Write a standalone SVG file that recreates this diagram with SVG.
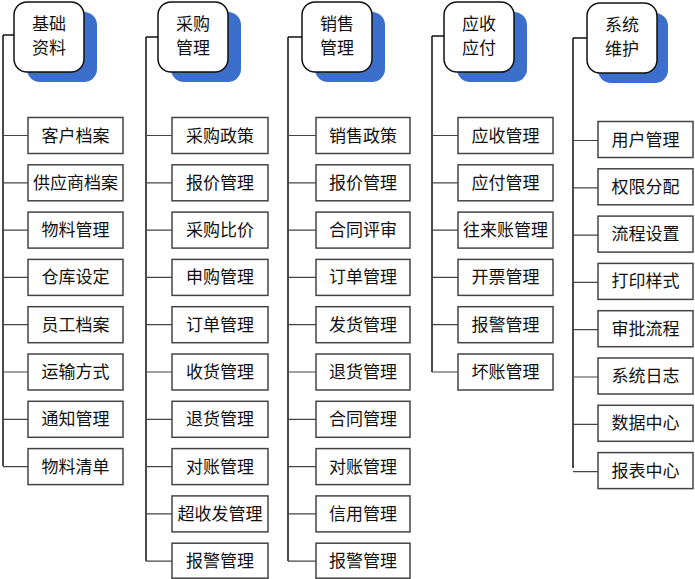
<svg xmlns="http://www.w3.org/2000/svg" width="695" height="579" viewBox="0 0 695 579">
<style>
.hd{fill:#fff;stroke:#111;stroke-width:1.5}
.sh{fill:#3B6FCB}
.bx{fill:#fff;stroke:#444;stroke-width:1.5}
.t{font-family:"Noto Sans CJK SC","Noto Sans",sans-serif;font-size:17px;fill:#111;text-anchor:middle}
.ht{font-size:17px}
.v{stroke:#111;stroke-width:1.5;fill:none}
.h{stroke:#444;stroke-width:1.2;fill:none}
</style>
<rect width="695" height="579" fill="#fff"/>
<g id="connectors">
<path class="v" d="M3,35H14M3,35V466"/>
<path class="h" d="M3,135.5H28M3,182.8H28M3,230.1H28M3,277.4H28M3,324.7H28M3,372H28M3,419.3H28M3,466.6H28"/>
<path class="v" d="M146,37H158M146,37V561"/>
<path class="h" d="M146,135.5H172M146,182.8H172M146,230.1H172M146,277.4H172M146,324.7H172M146,372H172M146,419.3H172M146,466.6H172M146,513.9H172M146,561.2H172"/>
<path class="v" d="M288,37H302M288,37V561"/>
<path class="h" d="M288,135.5H316M288,182.8H316M288,230.1H316M288,277.4H316M288,324.7H316M288,372H316M288,419.3H316M288,466.6H316M288,513.9H316M288,561.2H316"/>
<path class="v" d="M432,36H444M432,36V372"/>
<path class="h" d="M432,135.5H458M432,182.8H458M432,230.1H458M432,277.4H458M432,324.7H458M432,372H458"/>
<path class="v" d="M573,38H587M573,38V468"/>
<path class="h" d="M573,140.5H598M573,187.8H598M573,235.1H598M573,282.4H598M573,329.7H598M573,377H598M573,424.3H598M573,471.6H598"/>
</g>
<g id="h1"><rect class="sh" x="27" y="12" width="70" height="70" rx="13"/><rect class="hd" x="14" y="2" width="70" height="70" rx="13"/><text class="t ht" x="49" y="30">基础</text><text class="t ht" x="49" y="54">资料</text></g>
<g id="h2"><rect class="sh" x="171" y="12" width="70" height="70" rx="13"/><rect class="hd" x="158" y="2" width="70" height="70" rx="13"/><text class="t ht" x="193" y="30">采购</text><text class="t ht" x="193" y="54">管理</text></g>
<g id="h3"><rect class="sh" x="315" y="12" width="70" height="70" rx="13"/><rect class="hd" x="302" y="2" width="70" height="70" rx="13"/><text class="t ht" x="337" y="30">销售</text><text class="t ht" x="337" y="54">管理</text></g>
<g id="h4"><rect class="sh" x="457" y="12" width="70" height="70" rx="13"/><rect class="hd" x="444" y="2" width="70" height="70" rx="13"/><text class="t ht" x="479" y="30">应收</text><text class="t ht" x="479" y="54">应付</text></g>
<g id="h5"><rect class="sh" x="598" y="13" width="70" height="70" rx="13"/><rect class="hd" x="587" y="3" width="70" height="70" rx="13"/><text class="t ht" x="622" y="31">系统</text><text class="t ht" x="622" y="55">维护</text></g>
<g id="c1">
<g id="c1n1"><rect class="bx" x="28" y="117.5" width="95" height="36"/><text class="t" x="75.5" y="141.5">客户档案</text></g>
<g id="c1n2"><rect class="bx" x="28" y="164.8" width="95" height="36"/><text class="t" x="75.5" y="188.8">供应商档案</text></g>
<g id="c1n3"><rect class="bx" x="28" y="212.1" width="95" height="36"/><text class="t" x="75.5" y="236.1">物料管理</text></g>
<g id="c1n4"><rect class="bx" x="28" y="259.4" width="95" height="36"/><text class="t" x="75.5" y="283.4">仓库设定</text></g>
<g id="c1n5"><rect class="bx" x="28" y="306.7" width="95" height="36"/><text class="t" x="75.5" y="330.7">员工档案</text></g>
<g id="c1n6"><rect class="bx" x="28" y="354" width="95" height="36"/><text class="t" x="75.5" y="378">运输方式</text></g>
<g id="c1n7"><rect class="bx" x="28" y="401.3" width="95" height="36"/><text class="t" x="75.5" y="425.3">通知管理</text></g>
<g id="c1n8"><rect class="bx" x="28" y="448.6" width="95" height="36"/><text class="t" x="75.5" y="472.6">物料清单</text></g>
</g>
<g id="c2">
<g id="c2n1"><rect class="bx" x="172" y="117.5" width="96" height="36"/><text class="t" x="220" y="141.5">采购政策</text></g>
<g id="c2n2"><rect class="bx" x="172" y="164.8" width="96" height="36"/><text class="t" x="220" y="188.8">报价管理</text></g>
<g id="c2n3"><rect class="bx" x="172" y="212.1" width="96" height="36"/><text class="t" x="220" y="236.1">采购比价</text></g>
<g id="c2n4"><rect class="bx" x="172" y="259.4" width="96" height="36"/><text class="t" x="220" y="283.4">申购管理</text></g>
<g id="c2n5"><rect class="bx" x="172" y="306.7" width="96" height="36"/><text class="t" x="220" y="330.7">订单管理</text></g>
<g id="c2n6"><rect class="bx" x="172" y="354" width="96" height="36"/><text class="t" x="220" y="378">收货管理</text></g>
<g id="c2n7"><rect class="bx" x="172" y="401.3" width="96" height="36"/><text class="t" x="220" y="425.3">退货管理</text></g>
<g id="c2n8"><rect class="bx" x="172" y="448.6" width="96" height="36"/><text class="t" x="220" y="472.6">对账管理</text></g>
<g id="c2n9"><rect class="bx" x="172" y="495.9" width="96" height="36"/><text class="t" x="220" y="519.9">超收发管理</text></g>
<g id="c2n10"><rect class="bx" x="172" y="543.2" width="96" height="35"/><text class="t" x="220" y="567.2">报警管理</text></g>
</g>
<g id="c3">
<g id="c3n1"><rect class="bx" x="316" y="117.5" width="94" height="36"/><text class="t" x="363" y="141.5">销售政策</text></g>
<g id="c3n2"><rect class="bx" x="316" y="164.8" width="94" height="36"/><text class="t" x="363" y="188.8">报价管理</text></g>
<g id="c3n3"><rect class="bx" x="316" y="212.1" width="94" height="36"/><text class="t" x="363" y="236.1">合同评审</text></g>
<g id="c3n4"><rect class="bx" x="316" y="259.4" width="94" height="36"/><text class="t" x="363" y="283.4">订单管理</text></g>
<g id="c3n5"><rect class="bx" x="316" y="306.7" width="94" height="36"/><text class="t" x="363" y="330.7">发货管理</text></g>
<g id="c3n6"><rect class="bx" x="316" y="354" width="94" height="36"/><text class="t" x="363" y="378">退货管理</text></g>
<g id="c3n7"><rect class="bx" x="316" y="401.3" width="94" height="36"/><text class="t" x="363" y="425.3">合同管理</text></g>
<g id="c3n8"><rect class="bx" x="316" y="448.6" width="94" height="36"/><text class="t" x="363" y="472.6">对账管理</text></g>
<g id="c3n9"><rect class="bx" x="316" y="495.9" width="94" height="36"/><text class="t" x="363" y="519.9">信用管理</text></g>
<g id="c3n10"><rect class="bx" x="316" y="543.2" width="94" height="35"/><text class="t" x="363" y="567.2">报警管理</text></g>
</g>
<g id="c4">
<g id="c4n1"><rect class="bx" x="458" y="117.5" width="95" height="36"/><text class="t" x="505.5" y="141.5">应收管理</text></g>
<g id="c4n2"><rect class="bx" x="458" y="164.8" width="95" height="36"/><text class="t" x="505.5" y="188.8">应付管理</text></g>
<g id="c4n3"><rect class="bx" x="458" y="212.1" width="95" height="36"/><text class="t" x="505.5" y="236.1">往来账管理</text></g>
<g id="c4n4"><rect class="bx" x="458" y="259.4" width="95" height="36"/><text class="t" x="505.5" y="283.4">开票管理</text></g>
<g id="c4n5"><rect class="bx" x="458" y="306.7" width="95" height="36"/><text class="t" x="505.5" y="330.7">报警管理</text></g>
<g id="c4n6"><rect class="bx" x="458" y="354" width="95" height="36"/><text class="t" x="505.5" y="378">坏账管理</text></g>
</g>
<g id="c5">
<g id="c5n1"><rect class="bx" x="598" y="121.5" width="95" height="36"/><text class="t" x="645.5" y="145.5">用户管理</text></g>
<g id="c5n2"><rect class="bx" x="598" y="168.8" width="95" height="36"/><text class="t" x="645.5" y="192.8">权限分配</text></g>
<g id="c5n3"><rect class="bx" x="598" y="216.1" width="95" height="36"/><text class="t" x="645.5" y="240.1">流程设置</text></g>
<g id="c5n4"><rect class="bx" x="598" y="263.4" width="95" height="36"/><text class="t" x="645.5" y="287.4">打印样式</text></g>
<g id="c5n5"><rect class="bx" x="598" y="310.7" width="95" height="36"/><text class="t" x="645.5" y="334.7">审批流程</text></g>
<g id="c5n6"><rect class="bx" x="598" y="358" width="95" height="36"/><text class="t" x="645.5" y="382">系统日志</text></g>
<g id="c5n7"><rect class="bx" x="598" y="405.3" width="95" height="36"/><text class="t" x="645.5" y="429.3">数据中心</text></g>
<g id="c5n8"><rect class="bx" x="598" y="452.6" width="95" height="36"/><text class="t" x="645.5" y="476.6">报表中心</text></g>
</g>
</svg>
